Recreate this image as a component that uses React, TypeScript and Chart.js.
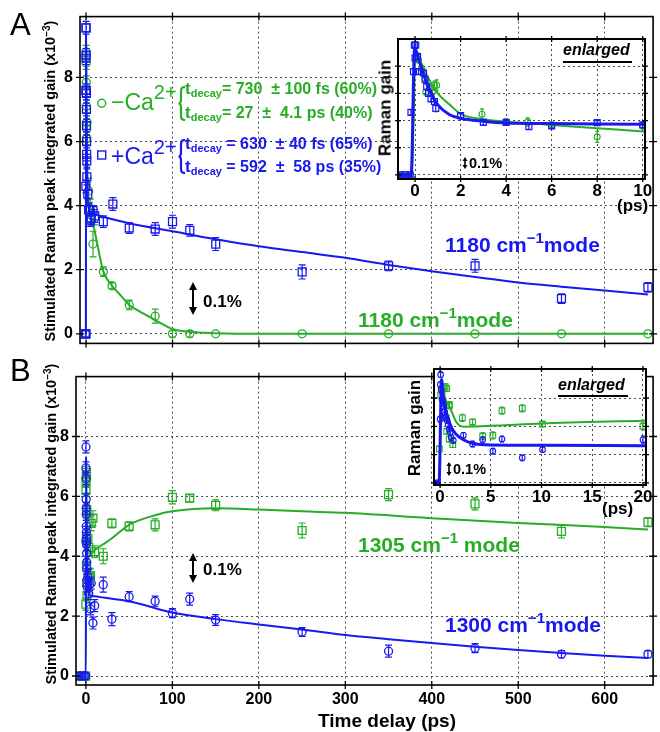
import React, { useEffect, useRef } from 'react';
import { Chart, registerables } from 'chart.js';

Chart.register(...registerables);

const FONT = '"Liberation Sans", Arial, Helvetica, sans-serif';
const BLUE = '#1818f0';
const GREEN = '#27ad27';

// ---------------- tick values ----------------
const xTicksMain = [0, 100, 200, 300, 400, 500, 600];
const yTicksMain = [0, 2, 4, 6, 8];
const xTicksInsetA = [0, 2, 4, 6, 8, 10];
const yTicksInsetA = [0, 2, 4, 6, 8];
const xTicksInsetB = [0, 5, 10, 15, 20];
const yTicksInsetB = [0, 2, 4, 6];

// ---------------- Panel A : 1180 cm-1 ----------------
// +Ca2+ (blue squares), short delays (ps)
const aBlueShortT = [-0.66, -0.44, -0.22, -0.18, -0.07, -0.03, 0.0, 0.03, 0.11, 0.15, 0.37, 0.44, 0.51, 0.59, 0.7, 0.85, 0.91, 2, 3, 4, 5, 6, 8, 10];
const aBlueShortY = [0, 0, 0, 4.6, 7.6, 9.55, 8.6, 9.55, 8.7, 7.6, 7.5, 7.0, 6.5, 6.0, 5.6, 5.4, 4.9, 4.36, 3.87, 3.87, 3.55, 3.6, 3.85, 3.68];
const aBlueShortE = [0.1, 0.1, 0.1, 0.2, 0.2, 0.2, 0.2, 0.2, 0.2, 0.2, 0.2, 0.2, 0.2, 0.2, 0.2, 0.2, 0.25, 0.15, 0.2, 0.15, 0.2, 0.2, 0.15, 0.2];
// +Ca2+ long delays
const aBlueLongT = [20, 31, 50, 80, 100, 120, 150, 250, 350, 450, 550, 650];
const aBlueLongY = [3.5, 4.05, 3.3, 3.27, 3.5, 3.23, 2.8, 1.93, 2.12, 2.12, 1.1, 1.45];
const aBlueLongE = [0.18, 0.2, 0.17, 0.2, 0.2, 0.18, 0.2, 0.22, 0.15, 0.2, 0.15, 0.15];
// -Ca2+ (green circles), short delays
const aGreenShortT = [-0.6, -0.4, -0.2, 0.07, 0.15, 0.3, 0.44, 0.47, 0.7, 0.76, 0.85, 0.95, 2.94, 4.0, 4.95, 6.0, 8.0, 10];
const aGreenShortY = [0, 0, 0, 8.8, 8.45, 7.85, 7.1, 6.1, 6.4, 6.1, 6.6, 6.6, 4.46, 3.9, 3.9, 3.7, 2.8, 3.6];
const aGreenShortE = [0.1, 0.1, 0.1, 0.2, 0.2, 0.2, 0.2, 0.2, 0.2, 0.2, 0.3, 0.4, 0.4, 0.2, 0.3, 0.2, 0.4, 0.2];
// -Ca2+ long delays
const aGreenLongT = [20, 30, 50, 80, 100, 120, 150, 250, 350, 450, 550, 650];
const aGreenLongY = [1.94, 1.5, 0.9, 0.55, 0.0, 0.0, 0.0, 0.0, 0.0, 0.0, 0.0, 0.0];
const aGreenLongE = [0.15, 0.1, 0.15, 0.22, 0.1, 0.1, 0, 0, 0, 0, 0, 0];
// fitted curves
const aBlueFitT = [-0.7, -0.17, -0.02, 0.1, 0.2, 0.4, 0.6, 0.8, 1.0, 1.5, 2, 3, 4, 6, 8, 10, 50, 100, 150, 200, 250, 300, 350, 400, 450, 500, 550, 600, 650];
const aBlueFitY = [0, 0, 9.4, 8.8, 8.3, 7.3, 6.4, 5.7, 5.15, 4.45, 4.17, 3.95, 3.82, 3.78, 3.75, 3.73, 3.45, 3.2, 2.95, 2.73, 2.55, 2.37, 2.15, 1.95, 1.77, 1.6, 1.47, 1.35, 1.23];
const aGreenFitT = [-0.7, -0.15, 0.03, 0.2, 0.5, 1.0, 1.5, 2, 3, 4, 5, 6, 8, 10, 20, 30, 40, 50, 60, 80, 100, 120, 150, 200, 650];
const aGreenFitY = [0, 0, 9.0, 8.5, 7.4, 6.0, 5.2, 4.5, 4.1, 3.92, 3.8, 3.68, 3.43, 3.2, 1.95, 1.5, 1.2, 0.9, 0.73, 0.43, 0.15, 0.06, 0.02, 0, 0];

// ---------------- Panel B : 1300 / 1305 cm-1 ----------------
// 1300 cm-1 (blue circles), short delays
const bBlueShortT = [-8, -5, -2, -0.3, 0.0, 0.02, 0.05, 0.1, 0.2, 0.3, 0.35, 0.45, 0.5, 0.6, 0.7, 0.8, 0.9, 1.0, 1.1, 1.3, 2.3, 3.2, 4.2, 5.2, 6.1, 8.1, 10.1, 20];
const bBlueShortY = [0, 0, 0, 0, 4.5, 6.95, 7.65, 6.6, 5.9, 5.6, 5.4, 5.0, 4.8, 4.6, 4.4, 4.1, 3.8, 3.6, 3.2, 3.0, 3.36, 2.75, 3.05, 2.24, 3.1, 1.77, 2.35, 3.05];
const bBlueShortE = [0.1, 0.1, 0.1, 0.1, 0.2, 0.2, 0.2, 0.2, 0.2, 0.2, 0.2, 0.2, 0.2, 0.2, 0.2, 0.2, 0.2, 0.2, 0.2, 0.2, 0.2, 0.2, 0.2, 0.2, 0.2, 0.2, 0.2, 0.25];
// 1300 cm-1 long delays
const bBlueLongT = [30, 50, 80, 100, 120, 150, 250, 350, 450, 550, 650];
const bBlueLongY = [1.9, 2.65, 2.5, 2.1, 2.57, 1.87, 1.47, 0.83, 0.93, 0.73, 0.73];
const bBlueLongE = [0.22, 0.17, 0.17, 0.15, 0.2, 0.18, 0.15, 0.2, 0.15, 0.12, 0.12];
// 1305 cm-1 (green squares), short delays
const bGreenShortT = [-8, -5, -2, -0.3, -0.07, 0.05, 0.2, 0.5, 0.66, 0.9, 0.92, 0.6, 0.66, 0.9, 1.25, 2.2, 3.2, 4.2, 5.2, 6.1, 8.1, 10.1, 20];
const bGreenShortY = [0, 0, 0, 0, 2.4, 6.2, 6.5, 6.8, 6.67, 5.55, 5.45, 4.57, 3.64, 3.1, 2.7, 4.6, 4.3, 3.3, 3.35, 5.1, 5.27, 4.15, 4.0];
const bGreenShortE = [0.1, 0.1, 0.1, 0.1, 0.2, 0.2, 0.2, 0.2, 0.2, 0.2, 0.2, 0.2, 0.2, 0.2, 0.2, 0.25, 0.2, 0.25, 0.25, 0.25, 0.25, 0.2, 0.25];
// 1305 cm-1 long delays
const bGreenLongT = [30, 50, 80, 100, 120, 150, 250, 350, 450, 550, 650];
const bGreenLongY = [5.1, 5.0, 5.05, 5.97, 5.94, 5.7, 4.86, 6.06, 5.75, 4.83, 5.14];
const bGreenLongE = [0.15, 0.15, 0.2, 0.22, 0.12, 0.18, 0.25, 0.2, 0.2, 0.22, 0.15];
// fitted curves
const bBlueFitT = [-0.6, -0.1, 0.15, 0.3, 0.5, 0.6, 1.0, 1.5, 2.3, 3.2, 5, 10, 20, 50, 100, 150, 200, 250, 300, 350, 400, 450, 500, 550, 600, 650];
const bBlueFitY = [0, 0, 7.3, 6.2, 5.3, 4.95, 4.1, 3.5, 3.05, 2.8, 2.68, 2.66, 2.62, 2.5, 2.12, 1.9, 1.72, 1.55, 1.37, 1.23, 1.1, 0.98, 0.87, 0.77, 0.68, 0.6];
const bGreenFitT = [-0.6, -0.1, 0.15, 0.3, 0.6, 1.0, 1.6, 2.3, 3.2, 5.6, 10, 20, 30, 50, 80, 100, 150, 200, 250, 300, 400, 500, 600, 650];
const bGreenFitY = [0, 0, 7.0, 6.5, 5.8, 5.27, 4.3, 3.97, 3.98, 4.05, 4.2, 4.4, 4.6, 5.05, 5.37, 5.5, 5.6, 5.56, 5.5, 5.45, 5.27, 5.11, 4.98, 4.89];

// ---------------- helpers ----------------
const pts = (t: number[], y: number[]) => t.map((v, i) => ({ x: v, y: y[i] }));

function pointSet(t: number[], y: number[], e: number[], color: string, style: string, radius: number, cap: number, bw = 1.3) {
  return {
    data: pts(t, y),
    errors: e,
    capWidth: cap,
    errColor: color,
    showLine: false,
    pointStyle: style,
    pointRadius: radius,
    pointHoverRadius: radius,
    pointBorderColor: color,
    pointBackgroundColor: 'rgba(0,0,0,0)',
    pointBorderWidth: bw,
    borderColor: color,
  };
}

function fitSet(t: number[], y: number[], color: string, width: number) {
  return {
    data: pts(t, y),
    borderColor: color,
    borderWidth: width,
    pointRadius: 0,
    pointHoverRadius: 0,
    cubicInterpolationMode: 'monotone',
    fill: false,
  };
}

const errorBarPlugin = {
  id: 'errbars',
  afterDatasetDraw(chart: any, args: any) {
    const ds: any = chart.data.datasets[args.index];
    if (!ds.errors) return;
    const ys = chart.scales.y;
    const a = chart.chartArea;
    const ctx = chart.ctx;
    ctx.save();
    ctx.beginPath();
    ctx.rect(a.left, a.top, a.right - a.left, a.bottom - a.top);
    ctx.clip();
    ctx.strokeStyle = ds.errColor;
    ctx.lineWidth = 1.2;
    ctx.beginPath();
    args.meta.data.forEach((el: any, i: number) => {
      const e = ds.errors[i];
      if (!e) return;
      if (el.x < a.left - 2 || el.x > a.right + 2) return;
      const v = ds.data[i].y;
      const y1 = ys.getPixelForValue(v - e);
      const y2 = ys.getPixelForValue(v + e);
      const c = ds.capWidth / 2;
      ctx.moveTo(el.x, y1); ctx.lineTo(el.x, y2);
      ctx.moveTo(el.x - c, y1); ctx.lineTo(el.x + c, y1);
      ctx.moveTo(el.x - c, y2); ctx.lineTo(el.x + c, y2);
    });
    ctx.stroke();
    ctx.restore();
  },
};

function framePlugin(white: boolean, lw: number, tick: number) {
  return {
    id: 'frame',
    beforeDraw(chart: any) {
      if (!white) return;
      const { ctx, chartArea: a } = chart;
      ctx.save();
      ctx.fillStyle = '#fff';
      ctx.fillRect(a.left, a.top, a.right - a.left, a.bottom - a.top);
      ctx.restore();
    },
    afterDraw(chart: any) {
      const { ctx, chartArea: a, scales } = chart;
      ctx.save();
      ctx.strokeStyle = '#000';
      ctx.lineWidth = 1.3;
      ctx.beginPath();
      for (const t of scales.x.ticks) {
        const px = scales.x.getPixelForValue(t.value);
        if (px < a.left + 2 || px > a.right - 2) continue;
        ctx.moveTo(px, a.top - tick); ctx.lineTo(px, a.top + tick);
        ctx.moveTo(px, a.bottom - tick); ctx.lineTo(px, a.bottom + tick);
      }
      for (const t of scales.y.ticks) {
        const py = scales.y.getPixelForValue(t.value);
        if (py < a.top + 2 || py > a.bottom - 2) continue;
        ctx.moveTo(a.left - tick, py); ctx.lineTo(a.left + tick, py);
        ctx.moveTo(a.right - tick, py); ctx.lineTo(a.right + tick, py);
      }
      ctx.stroke();
      ctx.lineWidth = lw;
      ctx.strokeRect(a.left, a.top, a.right - a.left, a.bottom - a.top);
      ctx.restore();
    },
  };
}

type Cfg = {
  datasets: any[];
  xMin: number; xMax: number; yMin: number; yMax: number;
  xTicks: number[]; yTicks: number[];
  xLabels: boolean; yLabels: boolean;
  yWidth: number; xHeight: number; padTop: number; padRight: number;
  xPad: number; yPad: number; tickSize: number;
  white: boolean; frameW: number; tick: number;
};

function makeConfig(c: Cfg): any {
  const font = { family: FONT, size: c.tickSize, weight: 'bold' as const };
  return {
    type: 'line',
    data: { datasets: c.datasets },
    options: {
      responsive: false,
      animation: false,
      devicePixelRatio: 1,
      events: [],
      layout: { padding: { top: c.padTop, right: c.padRight, left: 0, bottom: 0 } },
      plugins: { legend: { display: false }, tooltip: { enabled: false } },
      scales: {
        x: {
          type: 'linear', min: c.xMin, max: c.xMax,
          afterBuildTicks: (s: any) => { s.ticks = c.xTicks.map((v) => ({ value: v })); },
          afterFit: (s: any) => { s.height = c.xHeight; },
          grid: { color: '#4a4a4a', lineWidth: 1, drawTicks: false },
          border: { display: false, dash: [2, 3] },
          ticks: { display: c.xLabels, font, color: '#000', padding: c.xPad, autoSkip: false, maxRotation: 0 },
        },
        y: {
          type: 'linear', min: c.yMin, max: c.yMax,
          afterBuildTicks: (s: any) => { s.ticks = c.yTicks.map((v) => ({ value: v })); },
          afterFit: (s: any) => { s.width = c.yWidth; },
          grid: { color: '#4a4a4a', lineWidth: 1, drawTicks: false },
          border: { display: false, dash: [2, 3] },
          ticks: { display: c.yLabels, font, color: '#000', padding: c.yPad, autoSkip: false },
        },
      },
    },
    plugins: [framePlugin(c.white, c.frameW, c.tick), errorBarPlugin],
  };
}

function ChartBox(props: { left: number; top: number; width: number; height: number; make: () => any }) {
  const ref = useRef<HTMLCanvasElement>(null);
  useEffect(() => {
    const chart = new Chart(ref.current as HTMLCanvasElement, props.make());
    return () => chart.destroy();
  }, []);
  return (
    <div style={{ position: 'absolute', left: props.left, top: props.top, width: props.width, height: props.height }}>
      <canvas ref={ref} width={props.width} height={props.height} style={{ display: 'block' }} />
    </div>
  );
}

// ---------------- chart configs ----------------
const cat = (a: number[], b: number[]) => a.concat(b);

const mainA = () => makeConfig({
  datasets: [
    fitSet(aBlueFitT, aBlueFitY, BLUE, 2),
    pointSet(cat(aBlueShortT, aBlueLongT), cat(aBlueShortY, aBlueLongY), cat(aBlueShortE, aBlueLongE), BLUE, 'rect', 5.6, 7),
    fitSet(aGreenFitT, aGreenFitY, GREEN, 2),
    pointSet(cat(aGreenShortT, aGreenLongT), cat(aGreenShortY, aGreenLongY), cat(aGreenShortE, aGreenLongE), GREEN, 'circle', 4, 7),
  ],
  xMin: -7, xMax: 656, yMin: -0.3, yMax: 9.9,
  xTicks: xTicksMain, yTicks: yTicksMain, xLabels: false, yLabels: true,
  yWidth: 80, xHeight: 13, padTop: 15, padRight: 2, xPad: 5, yPad: 7, tickSize: 16,
  white: false, frameW: 1.6, tick: 4,
});

const mainB = () => makeConfig({
  datasets: [
    fitSet(bBlueFitT, bBlueFitY, BLUE, 2),
    pointSet(cat(bBlueShortT, bBlueLongT), cat(bBlueShortY, bBlueLongY), cat(bBlueShortE, bBlueLongE), BLUE, 'circle', 4, 7),
    fitSet(bGreenFitT, bGreenFitY, GREEN, 2),
    pointSet(cat(bGreenShortT, bGreenLongT), cat(bGreenShortY, bGreenLongY), cat(bGreenShortE, bGreenLongE), GREEN, 'rect', 5.6, 7),
  ],
  xMin: -11.5, xMax: 656, yMin: -0.3, yMax: 10,
  xTicks: xTicksMain, yTicks: yTicksMain, xLabels: true, yLabels: true,
  yWidth: 76, xHeight: 47, padTop: 2, padRight: 2, xPad: 5, yPad: 7, tickSize: 16,
  white: false, frameW: 1.6, tick: 4,
});

const insetA = () => makeConfig({
  datasets: [
    fitSet(aBlueFitT, aBlueFitY, BLUE, 3),
    pointSet(aBlueShortT, aBlueShortY, aBlueShortE, BLUE, 'rect', 4.2, 4, 1.2),
    fitSet(aGreenFitT, aGreenFitY, GREEN, 2),
    pointSet(aGreenShortT, aGreenShortY, aGreenShortE, GREEN, 'circle', 3, 4, 1.1),
  ],
  xMin: -0.75, xMax: 10.1, yMin: -0.3, yMax: 10,
  xTicks: xTicksInsetA, yTicks: yTicksInsetA, xLabels: true, yLabels: false,
  yWidth: 48, xHeight: 31, padTop: 9, padRight: 15, xPad: 2, yPad: 0, tickSize: 17,
  white: true, frameW: 2, tick: 3,
});

const insetB = () => makeConfig({
  datasets: [
    fitSet(bBlueFitT, bBlueFitY, BLUE, 3),
    pointSet(bBlueShortT, bBlueShortY, bBlueShortE, BLUE, 'circle', 2.8, 4, 1.1),
    fitSet(bGreenFitT, bGreenFitY, GREEN, 2),
    pointSet(bGreenShortT, bGreenShortY, bGreenShortE, GREEN, 'rect', 4, 4, 1.1),
  ],
  xMin: -0.6, xMax: 20.3, yMin: -0.15, yMax: 8.05,
  xTicks: xTicksInsetB, yTicks: yTicksInsetB, xLabels: true, yLabels: false,
  yWidth: 44, xHeight: 37, padTop: 7, padRight: 14, xPad: 2, yPad: 0, tickSize: 17,
  white: true, frameW: 2, tick: 3,
});

// ---------------- text helpers ----------------
function Txt(p: { x: number; y: number; size: number; color?: string; bold?: boolean; italic?: boolean; align?: string; children: any }) {
  const tr = p.align === 'center' ? 'translateX(-50%)' : undefined;
  return (
    <div style={{
      position: 'absolute', left: p.x, top: p.y - 0.85 * p.size, fontSize: p.size, lineHeight: `${p.size}px`,
      fontFamily: FONT, fontWeight: p.bold === false ? 'normal' : 'bold', fontStyle: p.italic ? 'italic' : 'normal',
      color: p.color || '#000', whiteSpace: 'pre', transform: tr,
    }}>{p.children}</div>
  );
}

const Sup = (p: { size: number; up: number; children: any }) => (
  <span style={{ fontSize: p.size, position: 'relative', top: -p.up, lineHeight: 0 }}>{p.children}</span>
);
const Sub = (p: { size: number; down: number; children: any }) => (
  <span style={{ fontSize: p.size, position: 'relative', top: p.down, lineHeight: 0 }}>{p.children}</span>
);

function VTxt(p: { cx: number; cy: number; size: number; children: any }) {
  return (
    <div style={{
      position: 'absolute', left: p.cx, top: p.cy, transform: 'translate(-50%,-50%) rotate(-90deg)',
      whiteSpace: 'nowrap', fontSize: p.size, lineHeight: 1, fontWeight: 'bold', fontFamily: FONT, color: '#000',
    }}>{p.children}</div>
  );
}

function DArrow(p: { x: number; y1: number; y2: number; hw: number; hl: number; w: number }) {
  const h = p.y2 - p.y1;
  return (
    <svg style={{ position: 'absolute', left: p.x - 8, top: p.y1 }} width={16} height={h}>
      <line x1={8} y1={p.hl - 1} x2={8} y2={h - p.hl + 1} stroke="#000" strokeWidth={p.w} />
      <polygon points={`8,0 ${8 - p.hw},${p.hl} ${8 + p.hw},${p.hl}`} fill="#000" />
      <polygon points={`8,${h} ${8 - p.hw},${h - p.hl} ${8 + p.hw},${h - p.hl}`} fill="#000" />
    </svg>
  );
}

function Brace(p: { x: number; top: number; h: number; color: string }) {
  const w = 7;
  const m = p.h / 2;
  const d = `M ${w} 1 Q 3 1 3 5 L 3 ${m - 4} Q 3 ${m} 0.5 ${m} Q 3 ${m} 3 ${m + 4} L 3 ${p.h - 5} Q 3 ${p.h - 1} ${w} ${p.h - 1}`;
  return (
    <svg style={{ position: 'absolute', left: p.x, top: p.top }} width={w + 1} height={p.h}>
      <path d={d} fill="none" stroke={p.color} strokeWidth={2.2} />
    </svg>
  );
}

function EqLine(p: { x: number; y: number; color: string; text: string }) {
  return (
    <Txt x={p.x} y={p.y} size={16} color={p.color}>
      <span style={{ fontSize: 17 }}>t</span>
      <Sub size={11} down={3}>decay</Sub>
      {p.text}
    </Txt>
  );
}

const yTitle = (
  <>Stimulated Raman peak integrated gain (x10<Sup size={10} up={5}>−3</Sup>)</>
);

export default function App() {
  useEffect(() => { document.body.style.margin = '0'; }, []);
  return (
    <div style={{ position: 'absolute', left: 0, top: 0, width: 660, height: 732, background: '#fff', overflow: 'hidden' }}>
      <ChartBox left={0} top={0} width={660} height={360} make={mainA} />
      <ChartBox left={0} top={360} width={660} height={372} make={mainB} />
      <ChartBox left={350} top={30} width={310} height={180} make={insetA} />
      <ChartBox left={390} top={362} width={270} height={160} make={insetB} />

      {/* panel letters */}
      <Txt x={10} y={35} size={31} bold={false}>A</Txt>
      <Txt x={10} y={381} size={31} bold={false}>B</Txt>

      {/* axis titles */}
      <VTxt cx={50} cy={181} size={14.5}>{yTitle}</VTxt>
      <VTxt cx={51} cy={524} size={14.5}>{yTitle}</VTxt>
      <Txt x={387} y={727} size={19} align="center">Time delay (ps)</Txt>

      {/* legend of panel A */}
      <svg style={{ position: 'absolute', left: 96, top: 98 }} width={12} height={12}>
        <circle cx={5.7} cy={5.3} r={4} fill="none" stroke={GREEN} strokeWidth={1.4} />
      </svg>
      <Txt x={111} y={111} size={23} bold={false} color={GREEN}>−Ca<Sup size={20} up={11}>2+</Sup></Txt>
      <Brace x={178} top={86} h={35} color={GREEN} />
      <EqLine x={185} y={95} color={GREEN} text={'= 730  ± 100 fs (60%)'} />
      <EqLine x={185} y={119} color={GREEN} text={'= 27  ±  4.1 ps (40%)'} />

      <svg style={{ position: 'absolute', left: 96, top: 149 }} width={12} height={12}>
        <rect x={1.7} y={2} width={8} height={8} fill="none" stroke={BLUE} strokeWidth={1.4} />
      </svg>
      <Txt x={111} y={165} size={23} bold={false} color={BLUE}>+Ca<Sup size={20} up={10}>2+</Sup></Txt>
      <Brace x={178} top={139} h={35} color={BLUE} />
      <EqLine x={185} y={150} color={BLUE} text={' = 630  ± 40 fs (65%)'} />
      <EqLine x={185} y={173} color={BLUE} text={' = 592  ±  58 ps (35%)'} />

      {/* mode labels */}
      <Txt x={445} y={252} size={21} color={BLUE}>1180 cm<Sup size={15} up={9}>−1</Sup>mode</Txt>
      <Txt x={358} y={327} size={21} color={GREEN}>1180 cm<Sup size={15} up={9}>−1</Sup>mode</Txt>
      <Txt x={358} y={552} size={21} color={GREEN}>1305 cm<Sup size={15} up={9}>−1</Sup> mode</Txt>
      <Txt x={445} y={632} size={21} color={BLUE}>1300 cm<Sup size={15} up={9}>−1</Sup>mode</Txt>

      {/* scale arrows */}
      <DArrow x={193} y1={282} y2={315} hw={4} hl={8} w={2} />
      <Txt x={203} y={307} size={17}>0.1%</Txt>
      <DArrow x={193} y1={553} y2={583} hw={4} hl={8} w={2} />
      <Txt x={203} y={575} size={17}>0.1%</Txt>
      <DArrow x={465} y1={157} y2={169} hw={2.5} hl={4} w={1.6} />
      <Txt x={469} y={168} size={14.5}>0.1%</Txt>
      <DArrow x={449} y1={462} y2={476} hw={2.5} hl={4} w={1.6} />
      <Txt x={453} y={474} size={14.5}>0.1%</Txt>

      {/* inset annotations */}
      <Txt x={563} y={56} size={16} italic>enlarged</Txt>
      <div style={{ position: 'absolute', left: 563, top: 61, width: 69, height: 1.5, background: '#000' }} />
      <Txt x={558} y={391} size={16} italic>enlarged</Txt>
      <div style={{ position: 'absolute', left: 558, top: 395, width: 70, height: 1.5, background: '#000' }} />
      <Txt x={617} y={211} size={17}>(ps)</Txt>
      <Txt x={602} y={514} size={17}>(ps)</Txt>
      <VTxt cx={385} cy={108} size={17}>Raman gain</VTxt>
      <VTxt cx={414} cy={428} size={17}>Raman gain</VTxt>
    </div>
  );
}
